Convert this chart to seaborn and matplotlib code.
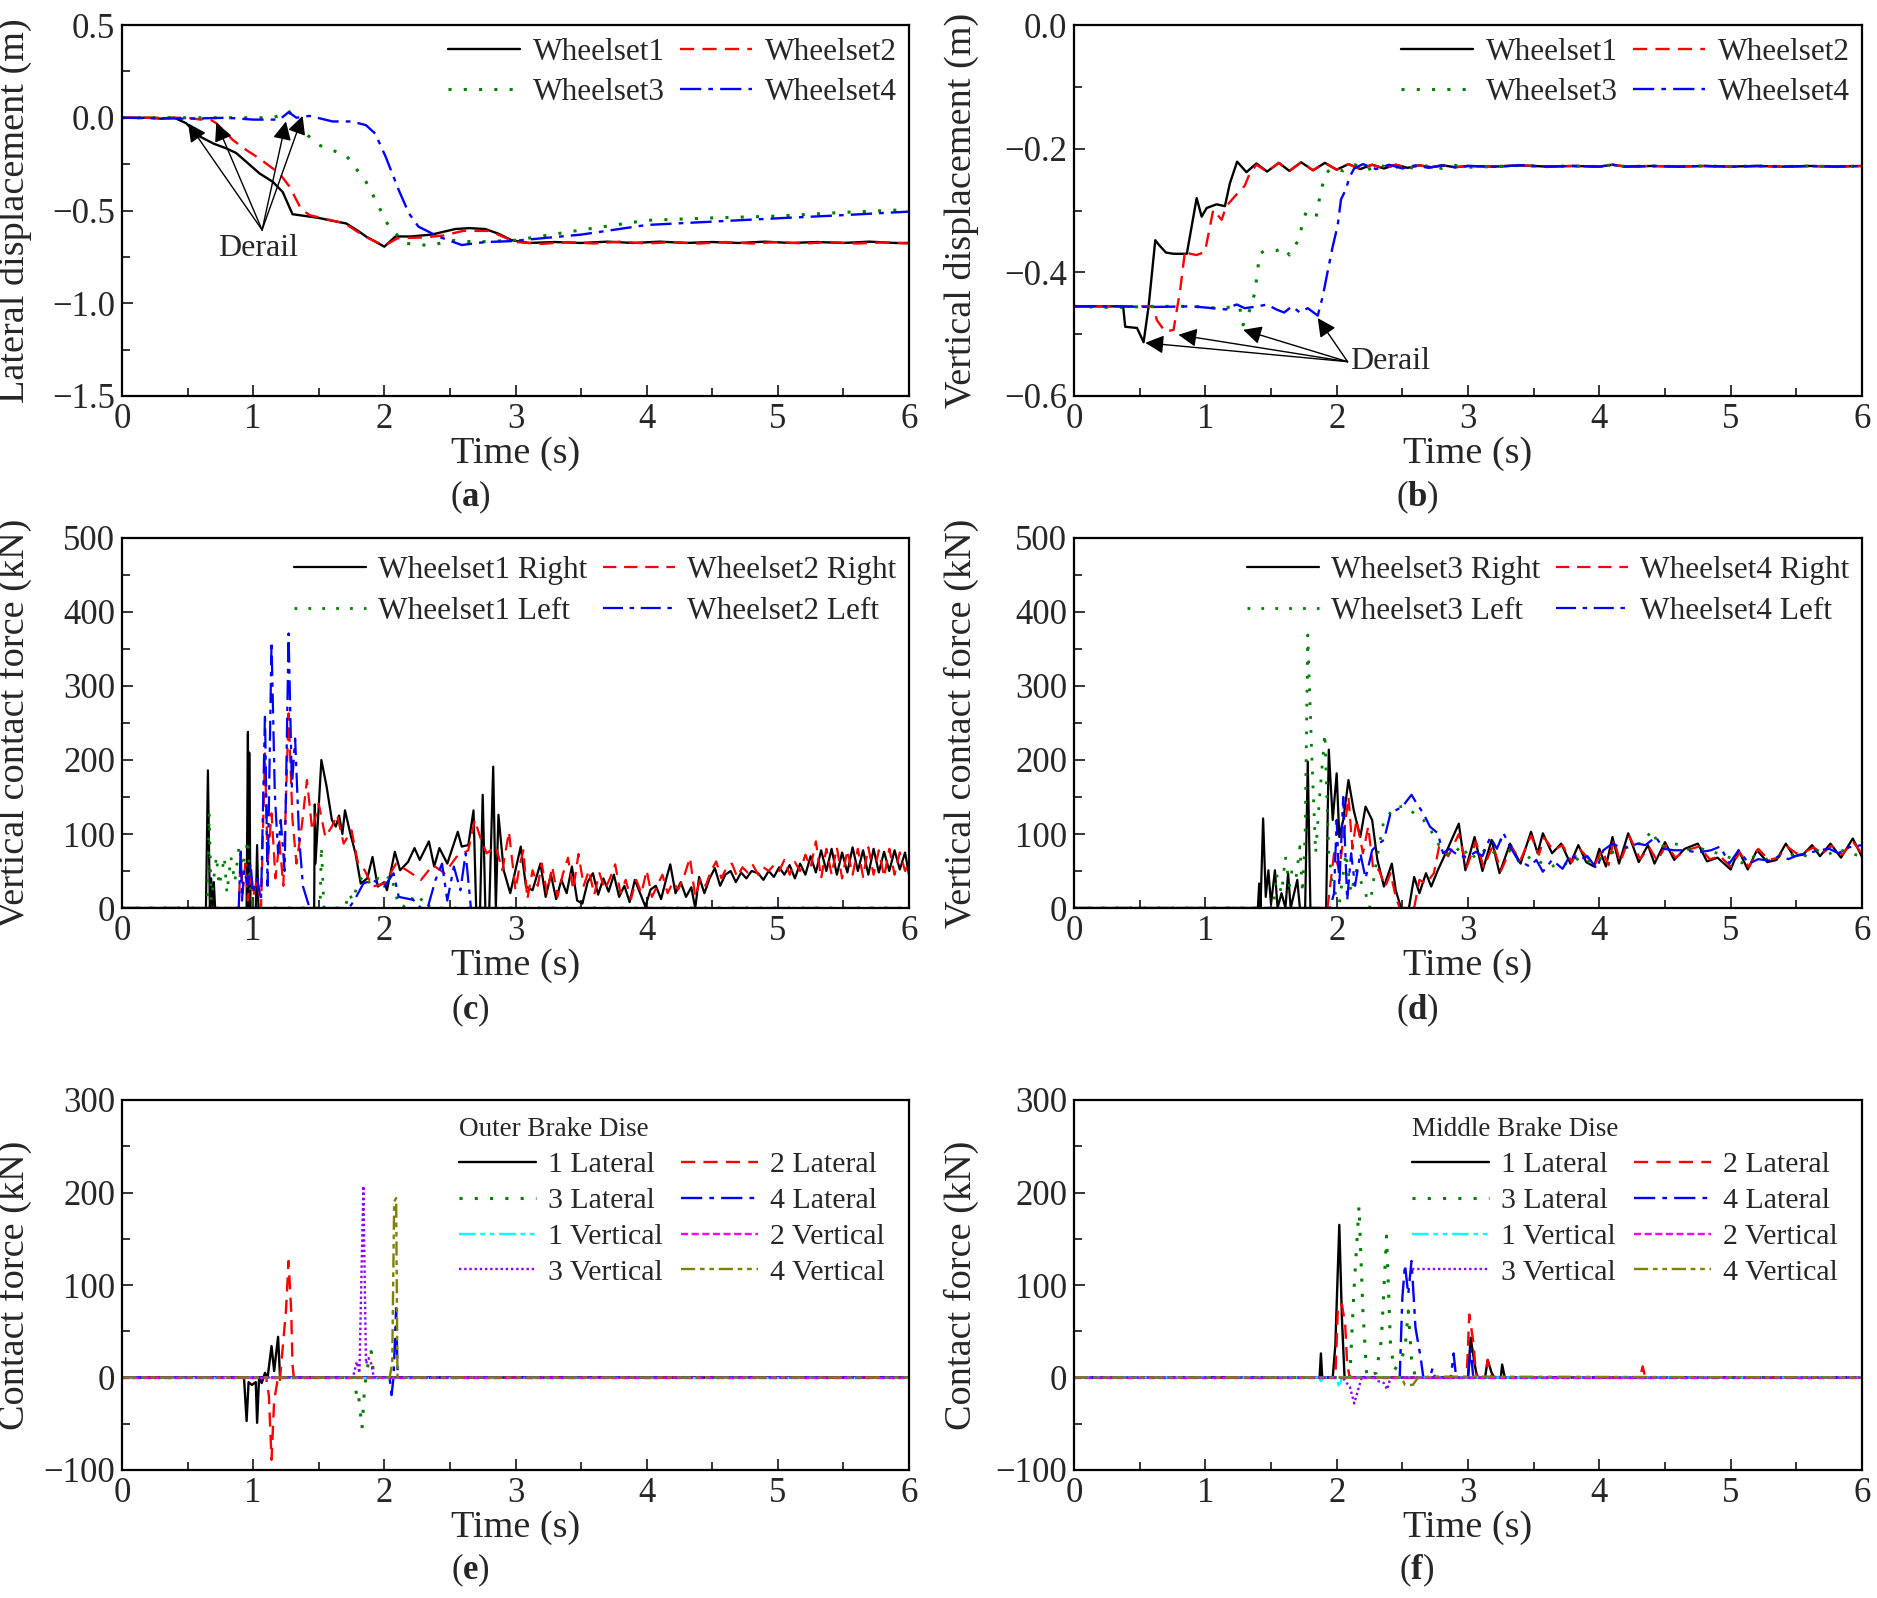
import numpy as np
import matplotlib
matplotlib.use("Agg")
import matplotlib.pyplot as plt
import seaborn as sns
from matplotlib.ticker import MultipleLocator, FuncFormatter

sns.set_style("ticks")
plt.rcParams['font.family'] = ['Liberation Serif', 'DejaVu Serif']
plt.rcParams['mathtext.fontset'] = 'custom'
plt.rcParams['mathtext.rm'] = 'Liberation Serif'
plt.rcParams['mathtext.bf'] = 'Liberation Serif:bold'

# ---------------- (a) lateral displacement ----------------
a_t1 = [0, 0.2, 0.3, 0.40, 0.49, 0.59, 0.70, 0.795, 0.87, 0.947, 1.048, 1.149, 1.225, 1.30, 1.40, 1.50,
        1.60, 1.71, 1.80, 1.86, 2.00, 2.085, 2.2, 2.36, 2.45, 2.54, 2.65, 2.77, 2.87, 2.97, 3.1, 3.3, 3.5,
        3.7, 3.9, 4.1, 4.3, 4.5, 4.7, 4.9, 5.1, 5.3, 5.5, 5.7, 5.9, 6.0]
a_y1 = [0, 0.0, -0.005, 0.0, -0.03, -0.10, -0.14, -0.165, -0.19, -0.237, -0.30, -0.345, -0.40, -0.52, -0.53,
        -0.54, -0.555, -0.57, -0.61, -0.64, -0.695, -0.64, -0.64, -0.63, -0.615, -0.60, -0.595, -0.60, -0.625,
        -0.66, -0.675, -0.67, -0.675, -0.668, -0.675, -0.668, -0.675, -0.67, -0.675, -0.668, -0.675, -0.67,
        -0.675, -0.668, -0.675, -0.675]
a_t2 = [0, 0.3, 0.5, 0.6, 0.65, 0.72, 0.845, 0.95, 1.048, 1.20, 1.276, 1.364, 1.43, 1.55, 1.70, 1.85, 2.00,
        2.1, 2.3, 2.45, 2.6, 2.8, 2.9, 3.0, 3.2, 3.4, 3.6, 3.8, 4.0, 4.2, 4.4, 4.6, 4.8, 5.0, 5.2, 5.4, 5.6,
        5.8, 6.0]
a_y2 = [0, 0, 0, -0.01, 0.0, -0.03, -0.12, -0.175, -0.22, -0.30, -0.37, -0.49, -0.525, -0.545, -0.57, -0.64,
        -0.69, -0.65, -0.645, -0.635, -0.61, -0.61, -0.64, -0.67, -0.68, -0.67, -0.678, -0.668, -0.678, -0.67,
        -0.678, -0.67, -0.678, -0.67, -0.678, -0.67, -0.678, -0.672, -0.678]
a_t3 = [0, 0.5, 0.8, 1.0, 1.15, 1.276, 1.33, 1.40, 1.50, 1.60, 1.706, 1.78, 1.86, 1.93, 2.035, 2.16, 2.36,
        2.5, 2.7, 3.0, 3.5, 4.0, 4.5, 5.0, 5.5, 6.0]
a_y3 = [0, 0, 0, 0, 0.0, 0.033, -0.03, -0.085, -0.147, -0.175, -0.20, -0.27, -0.345, -0.44, -0.587, -0.677,
        -0.69, -0.66, -0.67, -0.66, -0.605, -0.553, -0.54, -0.53, -0.51, -0.495]
a_t4 = [0, 0.5, 0.8, 1.0, 1.2, 1.27, 1.33, 1.43, 1.605, 1.75, 1.86, 1.93, 2.01, 2.11, 2.187, 2.26, 2.41,
        2.59, 2.77, 2.97, 3.5, 4.0, 4.5, 5.0, 5.5, 6.0]
a_y4 = [0, -0.005, 0.0, -0.01, -0.01, 0.03, 0.0, 0.01, -0.02, -0.02, -0.04, -0.085, -0.21, -0.39, -0.515,
        -0.587, -0.64, -0.686, -0.67, -0.665, -0.63, -0.578, -0.56, -0.542, -0.525, -0.506]
a_arrow_from = (1.068, -0.605)
a_arrow_to = [(0.504, -0.03), (0.719, -0.027), (1.25, -0.02), (1.377, 0.01)]

# ---------------- (b) vertical displacement ----------------
b_tail_t = [3.2, 3.4, 3.6, 3.8, 4.0, 4.1, 4.2, 4.4, 4.6, 4.8, 5.0, 5.2, 5.4, 5.6, 5.8, 6.0]
b_tail_y = [-0.229, -0.227, -0.229, -0.228, -0.229, -0.226, -0.229, -0.228, -0.229, -0.228, -0.229, -0.228,
            -0.229, -0.228, -0.229, -0.228]
b_t1 = [0, 0.2, 0.374, 0.39, 0.48, 0.53, 0.568, 0.619, 0.644, 0.70, 0.758, 0.859, 0.934, 0.972, 1.01, 1.086,
        1.149, 1.187, 1.242, 1.313, 1.389, 1.47, 1.56, 1.64, 1.73, 1.82, 1.91, 2.0, 2.09, 2.18, 2.27, 2.36,
        2.45, 2.54, 2.63, 2.72, 2.81, 2.9, 3.0]
b_y1 = [-0.455, -0.455, -0.455, -0.488, -0.49, -0.513, -0.455, -0.348, -0.355, -0.368, -0.37, -0.37, -0.28,
        -0.31, -0.296, -0.29, -0.293, -0.256, -0.221, -0.238, -0.224, -0.237, -0.223, -0.236, -0.222, -0.235,
        -0.223, -0.234, -0.225, -0.233, -0.226, -0.232, -0.226, -0.231, -0.227, -0.23, -0.227, -0.23, -0.228]
b_t2 = [0, 0.3, 0.606, 0.63, 0.694, 0.758, 0.808, 0.846, 0.884, 0.934, 0.997, 1.035, 1.06, 1.124, 1.16,
        1.225, 1.30, 1.338, 1.389, 1.47, 1.56, 1.64, 1.73, 1.82, 1.91, 2.0, 2.09, 2.18, 2.27, 2.36, 2.45, 2.54,
        2.63, 2.72, 2.81, 2.9, 3.0]
b_y2 = [-0.455, -0.455, -0.455, -0.477, -0.496, -0.493, -0.429, -0.364, -0.37, -0.372, -0.367, -0.326,
        -0.299, -0.315, -0.293, -0.277, -0.26, -0.24, -0.226, -0.237, -0.223, -0.236, -0.222, -0.235, -0.223,
        -0.234, -0.225, -0.233, -0.226, -0.232, -0.226, -0.231, -0.227, -0.23, -0.227, -0.23, -0.228]
b_t3 = [0, 0.3, 0.6, 0.9, 1.1, 1.26, 1.288, 1.338, 1.376, 1.414, 1.452, 1.54, 1.60, 1.64, 1.717, 1.742,
        1.768, 1.843, 1.881, 1.919, 1.957, 2.05, 2.14, 2.23, 2.32, 2.41, 2.5, 2.6, 2.7, 2.8, 2.9, 3.0]
b_y3 = [-0.455, -0.457, -0.455, -0.455, -0.458, -0.455, -0.485, -0.461, -0.434, -0.37, -0.365, -0.365,
        -0.36, -0.372, -0.345, -0.316, -0.303, -0.311, -0.267, -0.24, -0.232, -0.236, -0.226, -0.235, -0.225,
        -0.234, -0.226, -0.233, -0.227, -0.232, -0.227, -0.23]
b_t4 = [0, 0.3, 0.6, 0.9, 1.16, 1.2, 1.24, 1.3, 1.40, 1.47, 1.54, 1.60, 1.66, 1.72, 1.78, 1.856, 1.894,
        1.93, 1.97, 2.007, 2.033, 2.07, 2.096, 2.133, 2.2, 2.3, 2.4, 2.5, 2.6, 2.7, 2.8, 2.9, 3.0]
b_y4 = [-0.455, -0.455, -0.456, -0.455, -0.46, -0.455, -0.452, -0.458, -0.455, -0.452, -0.46, -0.465,
        -0.455, -0.465, -0.458, -0.47, -0.439, -0.40, -0.358, -0.325, -0.282, -0.266, -0.247, -0.232, -0.225,
        -0.233, -0.226, -0.232, -0.227, -0.231, -0.227, -0.23, -0.228]
b_arrow_from = (2.083, -0.5445)
b_arrow_to = [(0.543, -0.514), (0.795, -0.501), (1.288, -0.493), (1.856, -0.474)]

# ---------------- (c) vertical contact force, wheelsets 1-2 ----------------
c_t_r1 = [0, 0.64, 0.655, 0.67, 0.68, 0.69, 0.70, 0.71, 0.95, 0.96, 0.965, 0.97, 0.98, 1.02, 1.03, 1.04,
          1.465, 1.47, 1.475, 1.52, 1.56, 1.60, 1.63, 1.655, 1.68, 1.70, 1.74, 1.78, 1.82, 1.87, 1.91, 1.95,
          2.0, 2.02, 2.08, 2.12, 2.18, 2.23, 2.27, 2.34, 2.38, 2.42, 2.48, 2.56, 2.59, 2.64, 2.68, 2.70, 2.73,
          2.75, 2.77, 2.80, 2.83, 2.85, 2.87, 2.91, 2.96, 3.04, 3.08, 3.13, 3.19, 3.23, 3.27, 3.31, 3.35, 3.39,
          3.43, 3.47, 3.51, 3.55, 3.59, 3.63, 3.67, 3.71, 3.75, 3.79, 3.83, 3.87, 3.91, 3.95, 3.99, 4.03, 4.07,
          4.11, 4.15, 4.18, 4.22, 4.26, 4.30, 4.34, 4.37, 4.40, 4.44, 4.48, 4.52, 4.56, 4.60, 4.64, 4.68, 4.72,
          4.76, 4.80, 4.85, 4.89, 4.93, 4.97, 5.01, 5.05, 5.09, 5.13, 5.17, 5.21, 5.25, 5.29, 5.33, 5.37, 5.41,
          5.45, 5.49, 5.53, 5.57, 5.61, 5.65, 5.69, 5.73, 5.77, 5.81, 5.85, 5.89, 5.93, 5.97, 6.0]
c_v_r1 = [0, 0, 186, 0, 40, 0, 35, 0, 0, 238, 0, 210, 0, 0, 85, 0,
          0, 140, 60, 200, 164, 119, 110, 125, 100, 132, 101, 74, 33, 40, 69, 29,
          35, 24, 76, 51, 62, 81, 65, 90, 56, 81, 60, 103, 83, 85, 132, 0, 0,
          153, 0, 0, 191, 0, 126, 51, 20, 83, 29, 24, 60, 15, 45, 12, 38, 20,
          56, 10, 6, 35, 47, 18, 40, 22, 45, 15, 30, 8, 38, 20, 2, 25, 30,
          12, 40, 59, 20, 35, 15, 28, 0, 42, 20, 40, 54, 30, 45, 50, 35, 48,
          40, 50, 47, 38, 50, 42, 55, 45, 58, 40, 60, 45, 70, 48, 78, 50, 80,
          45, 75, 48, 82, 50, 78, 45, 80, 48, 76, 50, 78, 52, 75, 45]
c_t_r2 = [0, 0.89, 0.905, 0.92, 0.94, 0.96, 0.98, 1.00, 1.03, 1.06, 1.09, 1.11, 1.14, 1.17, 1.20, 1.23, 1.27,
          1.30, 1.33, 1.37, 1.41, 1.45, 1.50, 1.55, 1.60, 1.64, 1.69, 1.75, 1.80, 1.85, 1.91, 2.0, 2.09, 2.18,
          2.28, 2.37, 2.46, 2.55, 2.64, 2.69, 2.73, 2.78, 2.85, 2.90, 2.95, 3.0, 3.03, 3.06, 3.09, 3.13, 3.17,
          3.20, 3.24, 3.28, 3.32, 3.36, 3.40, 3.44, 3.48, 3.52, 3.56, 3.60, 3.64, 3.68, 3.72, 3.76, 3.80, 3.84,
          3.88, 3.92, 3.96, 4.00, 4.04, 4.08, 4.12, 4.16, 4.20, 4.24, 4.28, 4.33, 4.37, 4.41, 4.45, 4.49, 4.53,
          4.57, 4.61, 4.65, 4.69, 4.73, 4.77, 4.81, 4.85, 4.89, 4.93, 4.97, 5.01, 5.05, 5.09, 5.13, 5.17, 5.21,
          5.25, 5.29, 5.33, 5.37, 5.41, 5.45, 5.49, 5.53, 5.57, 5.61, 5.65, 5.69, 5.73, 5.77, 5.81, 5.85, 5.89,
          5.93, 5.97, 6.0]
c_v_r2 = [0, 0, 75, 20, 60, 10, 50, 15, 40, 0, 209, 60, 128, 40, 90, 30, 263,
          119, 60, 110, 173, 105, 141, 96, 110, 126, 87, 105, 60, 51, 29, 33, 60, 50,
          38, 58, 47, 69, 78, 119, 96, 74, 83, 51, 103, 24, 56, 78, 12, 51, 30,
          60, 20, 56, 15, 45, 68, 25, 73, 30, 51, 18, 47, 25, 40, 59, 20, 38,
          12, 38, 20, 51, 15, 30, 45, 20, 35, 25, 40, 68, 15, 40, 30, 50, 63,
          40, 55, 60, 42, 55, 48, 58, 45, 55, 50, 58, 50, 65, 45, 62, 50, 72,
          55, 90, 40, 80, 45, 82, 40, 78, 45, 80, 42, 82, 45, 78, 42, 80, 45,
          75, 50, 62]
c_t_l1 = [0, 0.65, 0.665, 0.68, 0.70, 0.72, 0.74, 0.76, 0.78, 0.80, 0.83, 0.86, 0.89, 0.92, 0.96, 0.98, 1.0,
          1.51, 1.52, 1.54, 1.70, 1.73, 1.76, 1.80, 1.85, 1.90, 1.95, 2.0, 2.05, 2.10, 2.14, 2.20, 2.25, 2.30,
          2.35, 6.0]
c_v_l1 = [0, 0, 128, 10, 40, 70, 30, 47, 69, 20, 69, 35, 80, 55, 92, 20, 0,
          0, 83, 0, 0, 20, 10, 35, 45, 30, 40, 35, 45, 10, 0, 15, 5, 15,
          0, 0]
c_t_l2 = [0, 0.89, 0.905, 0.915, 0.93, 0.96, 0.98, 1.00, 1.03, 1.06, 1.09, 1.11, 1.14, 1.165, 1.19, 1.21,
          1.24, 1.27, 1.295, 1.32, 1.35, 1.38, 1.43, 1.73, 1.77, 1.84, 1.91, 2.0, 2.07, 2.11, 2.22, 2.28, 2.33,
          2.39, 2.44, 2.48, 2.53, 2.58, 2.62, 2.66, 6.0]
c_v_l2 = [0, 0, 80, 10, 51, 30, 60, 20, 40, 10, 263, 30, 360, 155, 74, 119,
          50, 371, 164, 229, 96, 29, 0, 0, 10, 33, 38, 29, 47, 15, 11, 0, 0,
          38, 60, 10, 56, 24, 74, 0, 0]

# ---------------- (d) vertical contact force, wheelsets 3-4 ----------------
d_t_r3 = [0, 1.40, 1.41, 1.42, 1.44, 1.46, 1.48, 1.50, 1.53, 1.55, 1.58, 1.61, 1.63, 1.65, 1.70, 1.72, 1.76,
          1.78, 1.80, 1.92, 1.94, 1.97, 2.0, 2.02, 2.05, 2.09, 2.13, 2.18, 2.22, 2.27, 2.31, 2.36, 2.42, 2.45,
          2.49, 2.55, 2.59, 2.63, 2.68, 2.72, 2.77, 2.84, 2.93, 2.98, 3.05, 3.11, 3.18, 3.24, 3.32, 3.40, 3.48,
          3.53, 3.57, 3.64, 3.71, 3.78, 3.84, 3.90, 3.96, 4.0, 4.05, 4.10, 4.15, 4.22, 4.30, 4.37, 4.42, 4.50,
          4.57, 4.65, 4.75, 4.82, 4.90, 5.0, 5.06, 5.13, 5.20, 5.28, 5.35, 5.42, 5.48, 5.55, 5.62, 5.68, 5.76,
          5.84, 5.93, 6.0]
d_v_r3 = [0, 0, 33, 0, 121, 15, 51, 5, 51, 0, 20, 0, 47, 0, 38, 0, 0,
          198, 0, 0, 214, 119, 182, 96, 119, 173, 132, 96, 137, 119, 65, 29, 60, 24,
          0, 0, 42, 20, 47, 29, 51, 78, 114, 51, 96, 50, 92, 47, 87, 60, 103,
          74, 101, 74, 87, 60, 85, 62, 56, 80, 56, 96, 60, 101, 62, 85, 60, 89,
          65, 80, 87, 63, 68, 52, 78, 52, 78, 62, 65, 87, 70, 72, 85, 70, 87,
          68, 94, 69]
d_t_r4 = [0, 1.93, 1.95, 1.98, 2.02, 2.09, 2.12, 2.15, 2.20, 2.24, 2.28, 2.32, 2.37, 2.41, 2.45, 2.48, 2.59,
          2.63, 2.68, 2.74, 2.78, 2.85, 2.93, 2.99, 3.06, 3.12, 3.19, 3.25, 3.33, 3.40, 3.48, 3.54, 3.58, 3.65,
          3.72, 3.79, 3.85, 3.92, 3.97, 4.02, 4.07, 4.11, 4.16, 4.23, 4.31, 4.38, 4.44, 4.51, 4.58, 4.66, 4.76,
          4.84, 4.92, 5.0, 5.07, 5.14, 5.21, 5.29, 5.36, 5.43, 5.5, 5.57, 5.63, 5.7, 5.77, 5.85, 5.93, 6.0]
d_v_r4 = [0, 0, 29, 74, 51, 150, 80, 119, 74, 110, 50, 52, 29, 47, 15, 0, 0,
          38, 33, 47, 83, 70, 100, 55, 90, 55, 85, 50, 82, 65, 98, 72, 95, 78,
          85, 62, 80, 66, 60, 78, 58, 92, 62, 97, 66, 82, 64, 85, 68, 78, 83,
          66, 70, 56, 75, 55, 80, 65, 68, 83, 74, 76, 82, 74, 84, 72, 90, 73]
d_t_l3 = [0, 1.52, 1.54, 1.58, 1.61, 1.64, 1.66, 1.69, 1.72, 1.74, 1.76, 1.78, 1.81, 1.84, 1.87, 1.91, 1.94,
          1.97, 2.02, 2.07, 2.11, 2.15, 2.22, 2.25, 2.30, 2.36, 2.45, 2.52, 2.59, 2.66, 2.73, 2.80, 2.88, 2.95,
          3.02, 3.10, 3.18, 3.25, 3.33, 3.40, 3.48, 3.55, 3.63, 3.70, 3.78, 3.86, 3.94, 4.02, 4.10, 4.18, 4.26,
          4.33, 4.40, 4.46, 4.54, 4.62, 4.70, 4.78, 4.86, 4.94, 5.02, 5.10, 5.18, 5.26, 5.34, 5.42, 5.50, 5.58,
          5.66, 5.74, 5.82, 5.90, 6.0]
d_v_l3 = [0, 0, 47, 20, 69, 30, 51, 40, 83, 20, 100, 369, 209, 74, 150, 236, 74,
          29, 6, 74, 20, 51, 20, 0, 60, 119, 137, 137, 128, 119, 101, 78, 70, 85,
          65, 80, 70, 92, 75, 60, 70, 62, 55, 62, 58, 70, 60, 68, 75, 80, 85,
          88, 105, 82, 88, 85, 78, 80, 76, 72, 66, 60, 70, 65, 72, 68, 74, 70,
          78, 72, 80, 74, 70]
d_t_l4 = [0, 1.95, 1.98, 2.00, 2.02, 2.05, 2.08, 2.11, 2.14, 2.18, 2.22, 2.27, 2.32, 2.36, 2.41, 2.45, 2.50,
          2.57, 2.61, 2.66, 2.71, 2.77, 2.81, 2.86, 2.93, 3.0, 3.06, 3.11, 3.17, 3.22, 3.27, 3.33, 3.38, 3.47,
          3.52, 3.57, 3.64, 3.72, 3.78, 3.85, 3.91, 3.98, 4.03, 4.10, 4.16, 4.22, 4.29, 4.35, 4.43, 4.49, 4.57,
          4.65, 4.75, 4.85, 4.92, 4.99, 5.06, 5.14, 5.21, 5.29, 5.37, 5.44, 5.52, 5.59, 5.67, 5.75, 5.82, 5.90,
          6.0]
d_v_l4 = [0, 0, 20, 119, 30, 150, 10, 74, 30, 74, 40, 78, 87, 92, 128, 132, 137,
          153, 141, 128, 110, 101, 74, 80, 70, 69, 76, 70, 96, 80, 101, 80, 65, 56,
          65, 49, 65, 53, 72, 65, 70, 53, 78, 87, 82, 82, 87, 85, 96, 80, 78,
          78, 75, 78, 83, 60, 78, 60, 66, 64, 70, 66, 72, 74, 78, 80, 74, 82,
          85]

# ---------------- (e) outer brake disc ----------------
e_t_lat1 = [0, 0.93, 0.95, 0.965, 0.99, 1.02, 1.03, 1.045, 1.065, 1.09, 1.11, 1.14, 1.16, 1.19, 1.205, 6]
e_v_lat1 = [0, 0, -47, -5, -8, -5, -49, 0, -6, 5, 0, 34, 7, 44, 0, 0]
e_t_lat2 = [0, 1.10, 1.12, 1.14, 1.16, 1.185, 1.20, 1.25, 1.27, 1.29, 1.30, 1.31, 6]
e_v_lat2 = [0, 0, -20, -89, -25, -4, -8, 72, 126, 72, 14, 0, 0]
e_t_lat3 = [0, 1.76, 1.79, 1.80, 1.83, 1.85, 1.87, 1.90, 1.92, 6]
e_v_lat3 = [0, 0, -19, -15, -55, -10, 10, 28, 0, 0]
e_t_lat4 = [0, 2.04, 2.055, 2.07, 2.09, 2.10, 2.11, 6]
e_v_lat4 = [0, 0, -19, 0, 75, 10, 0, 0]
e_t_ver1 = [0, 6]
e_v_ver1 = [0, 0]
e_t_ver2 = [0, 6]
e_v_ver2 = [0, 0]
e_t_ver3 = [0, 1.76, 1.79, 1.81, 1.84, 1.86, 1.88, 1.90, 1.92, 6]
e_v_ver3 = [0, 0, 17, 5, 207, 15, 21, 15, 0, 0]
e_t_ver4 = [0, 2.04, 2.06, 2.075, 2.09, 2.10, 6]
e_v_ver4 = [0, 0, 15, 190, 194, 0, 0]

# ---------------- (f) middle brake disc ----------------
f_t_lat1 = [0, 1.87, 1.88, 1.89, 1.97, 1.99, 2.02, 2.04, 2.06, 3.0, 3.02, 3.05, 3.07, 3.13, 3.15, 3.18, 3.20,
            3.25, 3.26, 3.28, 6]
f_v_lat1 = [0, 0, 26, 0, 0, 35, 165, 64, 0, 0, 43, 15, 0, 0, 19, 5, 0, 0, 14, 0, 0]
f_t_lat2 = [0, 1.99, 2.01, 2.04, 2.065, 2.08, 2.10, 2.99, 3.01, 3.04, 3.06, 3.08, 3.13, 3.15, 3.18, 4.31,
            4.33, 4.35, 6]
f_v_lat2 = [0, 0, 79, 79, 57, 14, 0, 0, 68, 39, 5, 0, 0, 19, 0, 0, 12, 0, 0]
f_t_lat3 = [0, 2.10, 2.13, 2.17, 2.20, 2.23, 2.30, 2.34, 2.38, 2.41, 2.44, 2.48, 2.52, 2.545, 2.57, 2.60, 6]
f_v_lat3 = [0, 0, 90, 185, 72, 0, 5, 40, 153, 35, 8, 17, 30, 72, 20, 0, 0]
f_t_lat4 = [0, 2.48, 2.50, 2.52, 2.545, 2.57, 2.60, 2.64, 2.66, 2.71, 2.73, 2.75, 2.87, 2.89, 2.91, 3.00,
            3.02, 3.04, 6]
f_v_lat4 = [0, 0, 86, 122, 90, 126, 54, 21, 0, 0, 10, 0, 0, 26, 0, 0, 32, 0, 0]
f_t_ver1 = [0, 1.87, 1.88, 1.90, 2.0, 2.02, 2.04, 6]
f_v_ver1 = [0, 0, -4, 0, 0, -11, 0, 0]
f_t_ver2 = [0, 6]
f_v_ver2 = [0, 0]
f_t_ver3 = [0, 2.05, 2.065, 2.10, 2.134, 2.16, 2.19, 2.30, 2.318, 2.36, 2.385, 2.41, 6]
f_v_ver3 = [0, 0, -4, -10, -28, -15, 0, 0, -4, -6, -13, 0, 0]
f_t_ver4 = [0, 2.48, 2.50, 2.52, 2.55, 2.58, 2.62, 2.73, 6]
f_v_ver4 = [0, 0, -2, -8, -8, -8, 0, 1, 0]

labels_ws = ["Wheelset1", "Wheelset2", "Wheelset3", "Wheelset4"]
labels_c = ["Wheelset1 Right", "Wheelset2 Right", "Wheelset1 Left", "Wheelset2 Left"]
labels_d = ["Wheelset3 Right", "Wheelset4 Right", "Wheelset3 Left", "Wheelset4 Left"]
labels_brake = ["1 Lateral", "2 Lateral", "3 Lateral", "4 Lateral",
                "1 Vertical", "2 Vertical", "3 Vertical", "4 Vertical"]

# ---------------- styles ----------------
BLACK, RED, GREEN, BLUE = "#000000", "#FF0000", "#008000", "#0000FF"
CYAN, MAGENTA, PURPLE, OLIVE = "#00FFFF", "#FF00FF", "#8F00FF", "#808000"
LS_SOLID = "-"
LS_DASH = (0, (6, 3.5))
LS_DOT = (0, (1, 4))
LS_DASHDOT = (0, (9, 3, 2, 3))
LS_DDD = (0, (7, 2, 2, 2, 2, 2))
LS_SHORT = (0, (3, 1.5))
LS_FINEDOT = (0, (1, 1.2))
LS_DASHDOT2 = (0, (6, 2, 2, 2, 2, 2))

FS_TICK = 25
FS_LABEL = 27.5
FS_LEG = 22.5

W, H = 1877, 1598
fig = plt.figure(figsize=(W / 100, H / 100), dpi=100)

def make_ax(left, top, right, bottom):
    return fig.add_axes([left / W, 1 - bottom / H, (right - left) / W, (bottom - top) / H])

axA = make_ax(122, 25, 909, 396)
axB = make_ax(1074, 25, 1862, 396)
axC = make_ax(122, 538, 909, 908)
axD = make_ax(1074, 538, 1862, 908)
axE = make_ax(122, 1100, 909, 1470)
axF = make_ax(1074, 1100, 1862, 1470)


def draw(ax, t, v, color, ls, label, lw=1.7):
    sns.lineplot(x=t, y=v, ax=ax, color=color, linestyle=ls, linewidth=lw, label=label,
                 estimator=None, sort=False, legend=False)


def fmt(x, pos):
    s = "%.1f" % abs(x)
    return ("\u2212" + s) if x < -1e-9 else s


def fmt_int(x, pos):
    return ("\u2212%d" % abs(round(x))) if x < -1e-9 else "%d" % round(x)


def style(ax, ylim, ymaj, ymin, ylabel, decimals=True, labx=-0.114):
    ax.set_xlim(0, 6)
    ax.set_ylim(*ylim)
    ax.xaxis.set_major_locator(MultipleLocator(1))
    ax.xaxis.set_minor_locator(MultipleLocator(0.5))
    ax.yaxis.set_major_locator(MultipleLocator(ymaj))
    ax.yaxis.set_minor_locator(MultipleLocator(ymin))
    ax.yaxis.set_major_formatter(FuncFormatter(fmt if decimals else fmt_int))
    ax.tick_params(which="both", direction="in", top=False, right=False, labelsize=FS_TICK,
                   width=1.3, pad=5)
    ax.tick_params(which="major", length=8)
    ax.tick_params(which="minor", length=6)
    for s in ax.spines.values():
        s.set_linewidth(1.6)
        s.set_color("black")
        s.set_visible(True)
    ax.set_xlabel("Time (s)", fontsize=FS_LABEL, labelpad=0)
    ax.set_ylabel(ylabel, fontsize=FS_LABEL)
    ax.yaxis.set_label_coords(labx, 0.5)
    ax.set_facecolor("white")


def legend(ax, order, fs=FS_LEG, title=None, bbox=(1.0, 1.0), hl=2.3, cs=0.5, ls=0.38):
    h, l = ax.get_legend_handles_labels()
    h = [h[i] for i in order]
    l = [l[i] for i in order]
    lg = ax.legend(h, l, ncol=2, loc="upper right", bbox_to_anchor=bbox, frameon=False,
                   fontsize=fs, handlelength=hl, handletextpad=0.4, columnspacing=cs,
                   labelspacing=ls, borderaxespad=0.2, borderpad=0.2, title=title,
                   title_fontproperties={"size": fs - 2, "family": "Liberation Serif"},
                   alignment="left")
    return lg

# (a)
draw(axA, a_t1, a_y1, BLACK, LS_SOLID, labels_ws[0])
draw(axA, a_t2, a_y2, RED, LS_DASH, labels_ws[1])
draw(axA, a_t3, a_y3, GREEN, LS_DOT, labels_ws[2], lw=2.2)
draw(axA, a_t4, a_y4, BLUE, LS_DASHDOT, labels_ws[3])
style(axA, (-1.5, 0.5), 0.5, 0.25, "Lateral displacement (m)")
legend(axA, [0, 2, 1, 3])
for tgt in a_arrow_to:
    axA.annotate("", xy=tgt, xytext=a_arrow_from,
                 arrowprops=dict(arrowstyle="-|>", color="black", lw=1.0, mutation_scale=28,
                                 shrinkA=0, shrinkB=0))
axA.text(1.04, -0.705, "Derail", fontsize=23, ha="center", va="center")

# (b)
draw(axB, b_t1 + b_tail_t, b_y1 + b_tail_y, BLACK, LS_SOLID, labels_ws[0])
draw(axB, b_t2 + b_tail_t, b_y2 + b_tail_y, RED, LS_DASH, labels_ws[1])
draw(axB, b_t3 + b_tail_t, b_y3 + b_tail_y, GREEN, LS_DOT, labels_ws[2], lw=2.2)
draw(axB, b_t4 + b_tail_t, b_y4 + b_tail_y, BLUE, LS_DASHDOT, labels_ws[3])
style(axB, (-0.6, 0.0), 0.2, 0.1, "Vertical displacement (m)", labx=-0.12)
legend(axB, [0, 2, 1, 3])
for tgt in b_arrow_to:
    axB.annotate("", xy=tgt, xytext=b_arrow_from,
                 arrowprops=dict(arrowstyle="-|>", color="black", lw=1.0, mutation_scale=28,
                                 shrinkA=0, shrinkB=0))
axB.text(2.10, -0.545, "Derail", fontsize=23, ha="left", va="center")

# (c)
draw(axC, c_t_r1, c_v_r1, BLACK, LS_SOLID, labels_c[0], lw=1.6)
draw(axC, c_t_r2, c_v_r2, RED, LS_DASH, labels_c[1], lw=1.6)
draw(axC, c_t_l1, c_v_l1, GREEN, LS_DOT, labels_c[2], lw=2.0)
draw(axC, c_t_l2, c_v_l2, BLUE, LS_DASHDOT, labels_c[3], lw=1.6)
style(axC, (0, 500), 100, 50, "Vertical contact force (kN)", decimals=False)
legend(axC, [0, 2, 1, 3], bbox=(1.0, 0.985))

# (d)
draw(axD, d_t_r3, d_v_r3, BLACK, LS_SOLID, labels_d[0], lw=1.6)
draw(axD, d_t_r4, d_v_r4, RED, LS_DASH, labels_d[1], lw=1.6)
draw(axD, d_t_l3, d_v_l3, GREEN, LS_DOT, labels_d[2], lw=2.0)
draw(axD, d_t_l4, d_v_l4, BLUE, LS_DASHDOT, labels_d[3], lw=1.6)
style(axD, (0, 500), 100, 50, "Vertical contact force (kN)", decimals=False, labx=-0.12)
legend(axD, [0, 2, 1, 3], bbox=(1.0, 0.985))

# (e) / (f)
brake_styles = [(BLACK, LS_SOLID, 1.7), (RED, LS_DASH, 1.7), (GREEN, LS_DOT, 2.2), (BLUE, LS_DASHDOT, 1.7),
                (CYAN, LS_DDD, 1.7), (MAGENTA, LS_SHORT, 1.7), (PURPLE, LS_FINEDOT, 1.7),
                (OLIVE, LS_DASHDOT2, 1.7)]
e_series = [(e_t_lat1, e_v_lat1), (e_t_lat2, e_v_lat2), (e_t_lat3, e_v_lat3), (e_t_lat4, e_v_lat4),
            (e_t_ver1, e_v_ver1), (e_t_ver2, e_v_ver2), (e_t_ver3, e_v_ver3), (e_t_ver4, e_v_ver4)]
f_series = [(f_t_lat1, f_v_lat1), (f_t_lat2, f_v_lat2), (f_t_lat3, f_v_lat3), (f_t_lat4, f_v_lat4),
            (f_t_ver1, f_v_ver1), (f_t_ver2, f_v_ver2), (f_t_ver3, f_v_ver3), (f_t_ver4, f_v_ver4)]
for ax, series, title, lx in [(axE, e_series, "Outer Brake Dise", -0.114),
                              (axF, f_series, "Middle Brake Dise", -0.12)]:
    for (t, v), (c, ls, lw), lab in zip(series, brake_styles, labels_brake):
        draw(ax, t, v, c, ls, lab, lw=lw)
    style(ax, (-100, 300), 100, 50, "Contact force (kN)", decimals=False, labx=lx)
    legend(ax, [0, 2, 4, 6, 1, 3, 5, 7], fs=21.5, title=title, bbox=(0.985, 0.985), hl=2.6, cs=0.6,
           ls=0.3)

# panel labels
for x, y, s in [(470, 497, "a"), (1417, 497, "b"), (470, 1010, "c"), (1417, 1010, "d"),
                (470, 1570, "e"), (1417, 1570, "f")]:
    fig.text(x / W, 1 - y / H, "(" + r"$\mathbf{" + s + "}$" + ")", fontsize=25,
             ha="center", va="center")

fig.savefig("out.png", dpi=100, facecolor="white")
